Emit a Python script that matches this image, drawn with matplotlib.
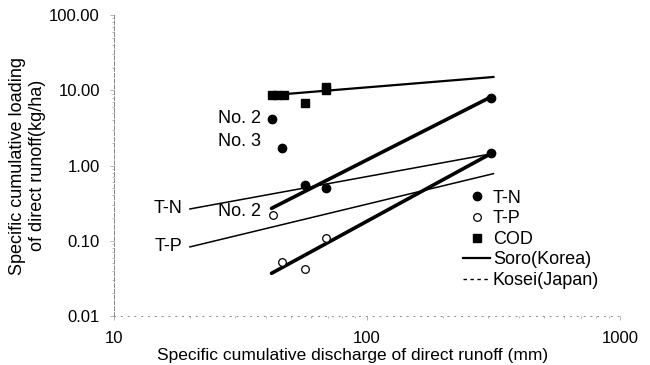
import matplotlib.pyplot as plt
import numpy as np

plt.rcParams['font.family'] = ['Liberation Sans', 'DejaVu Sans']

# Observed points (discharge mm, loading kg/ha)
tn_x = [42, 46, 57, 69, 310]
tn_y = [4.2, 1.7, 0.55, 0.5, 8.0]
tp_x = [42.6, 46, 57, 69]
tp_y = [0.22, 0.053, 0.042, 0.11]
tp_end_x = [310]
tp_end_y = [1.45]
cod_x = [42, 44, 47, 57, 69, 69]
cod_y = [8.7, 8.7, 8.7, 6.8, 11.0, 10.0]

# Regression lines, Soro (Korea)
soro_tn_x = [42, 310]
soro_tn_y = [0.27, 8.2]
soro_tp_x = [42, 310]
soro_tp_y = [0.037, 1.45]
soro_cod_x = [42, 316]
soro_cod_y = [8.6, 15.0]

# Regression lines, Kosei (Japan)
kosei_tn_x = [20, 310]
kosei_tn_y = [0.265, 1.43]
kosei_tp_x = [20, 316]
kosei_tp_y = [0.083, 0.78]

fig = plt.figure(figsize=(6.5, 3.65), dpi=100)
ax = fig.add_axes([0.175, 0.134, 0.779, 0.825])
ax.set_xscale('log')
ax.set_yscale('log')
ax.set_xlim(10, 1000)
ax.set_ylim(0.01, 100)

# lines
ax.plot(soro_tn_x, soro_tn_y, color='black', lw=2.6, solid_capstyle='round')
ax.plot(soro_tp_x, soro_tp_y, color='black', lw=2.6, solid_capstyle='round')
ax.plot(soro_cod_x, soro_cod_y, color='black', lw=1.6)
ax.plot(kosei_tn_x, kosei_tn_y, color='black', lw=1.1)
ax.plot(kosei_tp_x, kosei_tp_y, color='black', lw=1.1)

# points
ax.plot(tn_x, tn_y, 'o', color='black', ms=6, label='T-N')
ax.plot(tp_x, tp_y, 'o', mfc='white', mec='black', mew=0.9, ms=5.5, label='T-P')
ax.plot(tp_end_x, tp_end_y, 'o', color='black', ms=6)
ax.plot(cod_x, cod_y, 's', color='black', ms=6, label='COD')
ax.plot([], [], color='black', lw=1.6, label='Soro(Korea)')
ax.plot([], [], color='black', lw=1.0, ls=(0, (2.5, 2.5)), label='Kosei(Japan)')

# annotations
ax.text(38.3, 4.2, 'No. 2', ha='right', va='center', fontsize=13)
ax.text(38.3, 2.06, 'No. 3', ha='right', va='center', fontsize=13)
ax.text(38.3, 0.242, 'No. 2', ha='right', va='center', fontsize=13)
ax.text(18.7, 0.265, 'T-N', ha='right', va='center', fontsize=13)
ax.text(18.7, 0.083, 'T-P', ha='right', va='center', fontsize=13)

leg = ax.legend(loc='upper left', bbox_to_anchor=(0.69, 0.42), frameon=False,
                fontsize=13, handlelength=1.5, handletextpad=0.15,
                labelspacing=0.2, borderaxespad=0, borderpad=0)

# axes styling
ax.spines['top'].set_visible(False)
ax.spines['right'].set_visible(False)
ax.spines['left'].set_linestyle((0, (4, 2)))
ax.spines['left'].set_color('#888888')
ax.spines['left'].set_linewidth(0.7)
ax.spines['bottom'].set_linestyle((0, (1, 6)))
ax.spines['bottom'].set_color('#888888')
ax.spines['bottom'].set_linewidth(0.7)
ax.tick_params(which='both', color='#999999', width=0.5, labelsize=12)
ax.tick_params(which='major', length=3)
ax.tick_params(which='minor', length=1.5)
ax.tick_params(axis='x', pad=8)
ax.tick_params(axis='y', pad=7)

ax.set_xticks([10, 100, 1000])
ax.set_xticklabels(['10', '100', '1000'])
ax.set_yticks([0.01, 0.1, 1, 10, 100])
ax.set_yticklabels(['0.01', '0.10', '1.00', '10.00', '100.00'])

ax.set_xlabel('Specific cumulative discharge of direct runoff (mm)', fontsize=12.5, va='bottom')
ax.xaxis.set_label_coords(0.472, -0.157)
ax.set_ylabel('Specific cumulative loading\nof direct runoff(kg/ha)', fontsize=13)
ax.yaxis.set_label_coords(-0.134, 0.5)

fig.savefig('out.png', dpi=100)
